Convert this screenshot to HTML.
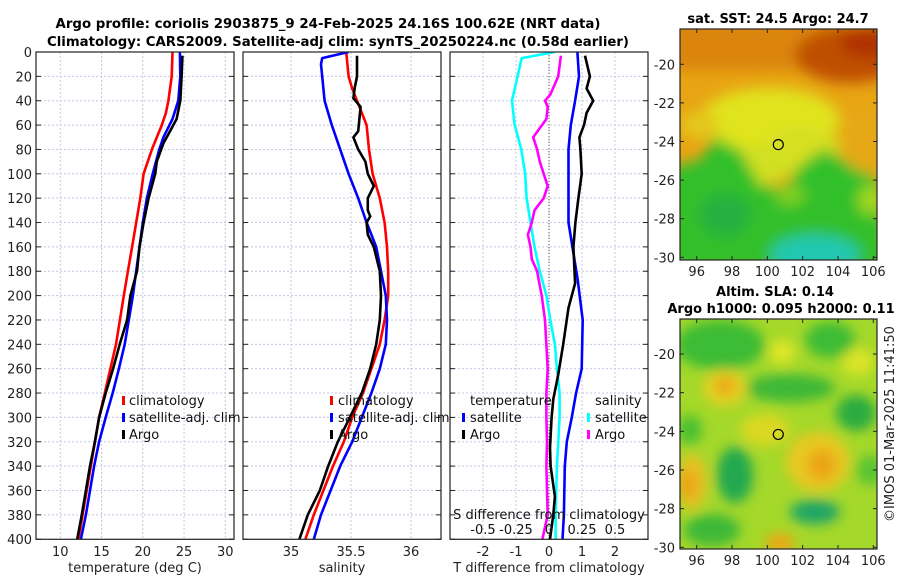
<!DOCTYPE html>
<html><head><meta charset="utf-8"><style>
html,body{margin:0;padding:0;background:#fff;}
svg{display:block;font-family:"DejaVu Sans","Liberation Sans",sans-serif;}
</style></head><body>
<svg id="fig" width="900" height="580" viewBox="0 0 900 580" xmlns="http://www.w3.org/2000/svg">
<defs>
<filter id="blr" x="-50%" y="-50%" width="200%" height="200%"><feGaussianBlur stdDeviation="7"/></filter>
<filter id="blr2" x="-50%" y="-50%" width="200%" height="200%"><feGaussianBlur stdDeviation="6"/></filter>
<clipPath id="c1"><rect x="680" y="29" width="197" height="231"/></clipPath>
<clipPath id="c2"><rect x="680" y="319" width="197" height="230"/></clipPath>
<clipPath id="cp1"><rect x="36" y="52" width="198" height="488"/></clipPath>
<clipPath id="cp2"><rect x="243" y="52" width="198" height="488"/></clipPath>
<clipPath id="cp3"><rect x="450" y="52" width="198" height="488"/></clipPath>
</defs>
<g font-weight="bold" font-size="13" text-anchor="middle">
<text x="328" y="28" textLength="545" lengthAdjust="spacingAndGlyphs">Argo profile: coriolis 2903875_9 24-Feb-2025 24.16S 100.62E (NRT data)</text>
<text x="338" y="46" textLength="582" lengthAdjust="spacingAndGlyphs">Climatology: CARS2009. Satellite-adj clim: synTS_20250224.nc (0.58d earlier)</text>
</g>
<g id="grid"></g>
<g id="marks"></g>
<g id="axes"></g>

<!-- map 1 -->
<g clip-path="url(#c1)">
<rect x="680" y="29" width="197" height="231" fill="#e8a414"/>
<g filter="url(#blr)">
<rect x="670" y="20" width="220" height="50" fill="#da840c"/>
<ellipse cx="850" cy="55" rx="55" ry="28" fill="#bf5006"/>
<ellipse cx="868" cy="42" rx="28" ry="16" fill="#b03000"/>
<ellipse cx="770" cy="120" rx="70" ry="32" fill="#e0e41e"/>
<ellipse cx="800" cy="150" rx="40" ry="25" fill="#d8e020"/>
<ellipse cx="760" cy="165" rx="30" ry="20" fill="#d0e020"/>
<ellipse cx="700" cy="125" rx="20" ry="14" fill="#e4c81a"/>
<ellipse cx="865" cy="140" rx="22" ry="35" fill="#e6a812"/>
<path d="M670 168 L700 160 L715 137 L740 150 L760 185 L785 190 L800 165 L825 148 L850 165 L880 180 L890 270 L670 270 Z" fill="#30c02c"/>
<ellipse cx="790" cy="195" rx="15" ry="10" fill="#80d020"/>
<ellipse cx="815" cy="255" rx="45" ry="20" fill="#20c8b0"/>
<ellipse cx="725" cy="215" rx="25" ry="22" fill="#28b040"/>
<ellipse cx="870" cy="200" rx="12" ry="15" fill="#a0d820"/>
</g>
</g>
<!-- map 2 -->
<g clip-path="url(#c2)">
<rect x="680" y="319" width="197" height="230" fill="#a4d82a"/>
<g filter="url(#blr2)">
<ellipse cx="720" cy="345" rx="45" ry="25" fill="#3cbc34"/>
<ellipse cx="790" cy="388" rx="45" ry="14" fill="#3cb838"/>
<ellipse cx="830" cy="340" rx="25" ry="18" fill="#3cbc34"/>
<ellipse cx="856" cy="413" rx="20" ry="18" fill="#2aac40"/>
<ellipse cx="735" cy="475" rx="18" ry="28" fill="#22a850"/>
<ellipse cx="690" cy="430" rx="12" ry="15" fill="#48c030"/>
<ellipse cx="712" cy="530" rx="28" ry="16" fill="#3cb838"/>
<ellipse cx="815" cy="512" rx="25" ry="12" fill="#1ea468"/>
<ellipse cx="870" cy="470" rx="14" ry="15" fill="#58c430"/>
<ellipse cx="725" cy="388" rx="22" ry="18" fill="#e6d020"/>
<ellipse cx="725" cy="386" rx="10" ry="8" fill="#eca018"/>
<ellipse cx="782" cy="352" rx="13" ry="12" fill="#e0e828"/>
<ellipse cx="858" cy="362" rx="16" ry="14" fill="#dce428"/>
<ellipse cx="765" cy="430" rx="25" ry="16" fill="#dcd824"/>
<ellipse cx="818" cy="462" rx="32" ry="30" fill="#e8c820"/>
<ellipse cx="822" cy="465" rx="14" ry="16" fill="#eba418"/>
<ellipse cx="692" cy="482" rx="15" ry="28" fill="#e8c020"/>
<ellipse cx="688" cy="485" rx="8" ry="14" fill="#eca018"/>
<ellipse cx="780" cy="543" rx="15" ry="10" fill="#eaa818"/>
</g>
</g>
<text x="778" y="23" font-size="13" font-weight="bold" text-anchor="middle">sat. SST: 24.5 Argo: 24.7</text>
<text x="775" y="296" font-size="13" font-weight="bold" text-anchor="middle">Altim. SLA: 0.14</text>
<text x="781" y="313" font-size="13" font-weight="bold" text-anchor="middle">Argo h1000: 0.095 h2000: 0.11</text>
<text transform="translate(894,424) rotate(-90)" font-size="13" text-anchor="middle" fill="#222">©IMOS 01-Mar-2025 11:41:50</text>
<g id="maxes"></g>

<g font-size="13" fill="#111">
<rect x="122" y="396" width="3" height="9" fill="#f00"/><text x="129" y="405">climatology</text>
<rect x="122" y="413" width="3" height="9" fill="#00f"/><text x="129" y="422">satellite-adj. clim</text>
<rect x="122" y="430" width="3" height="9" fill="#000"/><text x="129" y="439">Argo</text>
</g>
<g font-size="13" fill="#111">
<rect x="330" y="396" width="3" height="9" fill="#f00"/><text x="338" y="405">climatology</text>
<rect x="330" y="413" width="3" height="9" fill="#00f"/><text x="338" y="422">satellite-adj. clim</text>
<rect x="330" y="430" width="3" height="9" fill="#000"/><text x="338" y="439">Argo</text>
</g>
<g font-size="13" fill="#111">
<text x="470" y="405">temperature</text>
<rect x="462" y="413" width="3" height="9" fill="#00f"/><text x="470" y="422">satellite</text>
<rect x="462" y="430" width="3" height="9" fill="#000"/><text x="470" y="439">Argo</text>
<text x="595" y="405">salinity</text>
<rect x="587" y="413" width="3" height="9" fill="#0ff"/><text x="595" y="422">satellite</text>
<rect x="587" y="430" width="3" height="9" fill="#f0f"/><text x="595" y="439">Argo</text>
<text x="549" y="519" text-anchor="middle">S difference from climatology</text>
</g>
<g font-size="13" fill="#222" text-anchor="middle">
<text x="135" y="572">temperature (deg C)</text>
<text x="342" y="572">salinity</text>
<text x="549" y="572">T difference from climatology</text>
</g>
</svg>
<script>
// ---- data ----
const tClimDepth=[0,20,40,50,60,80,100,120,140,160,180,200,240,280,300,340,380,400];
const tClim=[23.6,23.5,23.1,22.8,22.3,21.1,20.1,19.7,19.2,18.7,18.2,17.7,16.75,15.4,14.7,13.7,12.7,12.2];
const tSatDepth=[0,20,40,55,70,80,100,120,140,160,180,200,220,240,260,280,300,320,340,360,380,400];
const tSat=[24.5,24.55,24.3,23.6,22.5,22.0,21.2,20.5,20.0,19.6,19.2,18.8,18.3,17.8,17.1,16.35,15.5,14.7,14.1,13.6,13.1,12.5];
const tArgoDepth=[3,20,40,55,65,75,90,100,120,140,160,180,200,220,240,260,280,300,320,340,360,380,400];
const tArgo=[24.8,24.7,24.55,24.1,23.3,22.5,21.7,21.5,20.7,20.1,19.6,19.3,18.5,18.1,17.2,16.4,15.5,14.7,14.2,13.6,13.1,12.6,12.05];

const sSatDepth=[0,5,10,40,60,80,100,120,140,160,180,200,220,240,260,280,300,320,340,360,380,400];
const sSat=[35.48,35.26,35.25,35.28,35.34,35.41,35.48,35.56,35.63,35.71,35.75,35.79,35.80,35.79,35.74,35.67,35.59,35.51,35.41,35.33,35.25,35.19];
const sClimDepth=[0,20,30,40,60,80,100,120,140,160,180,200,220,240,260,280,300,320,340,360,380,400];
const sClim=[35.46,35.48,35.51,35.55,35.63,35.65,35.68,35.74,35.78,35.80,35.81,35.81,35.78,35.74,35.67,35.60,35.51,35.44,35.35,35.27,35.19,35.12];
const sArgoDepth=[3,20,30,38,45,55,65,70,80,90,100,110,120,130,135,140,150,160,180,200,220,240,260,280,300,320,340,360,380,400];
const sArgo=[35.55,35.55,35.53,35.52,35.58,35.57,35.56,35.52,35.56,35.62,35.64,35.69,35.64,35.64,35.66,35.63,35.64,35.69,35.74,35.75,35.74,35.71,35.66,35.59,35.49,35.39,35.31,35.24,35.14,35.07];

const dTSatDepth=[0,20,40,60,80,100,140,187,220,260,280,300,320,340,380,400];
const dTSat=[0.86,0.91,0.79,0.66,0.59,0.59,0.59,0.87,1.02,0.99,0.82,0.69,0.54,0.48,0.45,0.41];
const dTArgoDepth=[3,20,30,40,50,60,70,80,100,120,140,160,190,210,240,265,285,300,325,340,365,380,400];
const dTArgo=[1.09,1.24,1.14,1.34,1.14,1.06,0.92,0.95,0.99,0.89,0.80,0.74,0.79,0.59,0.43,0.28,0.13,0.08,0.03,0.05,0.18,0.13,0.03];
const dSSatDepth=[0,5,40,60,80,100,120,140,160,180,200,220,240,260,280,300,340,380,400];
const dSSat=[0.045,-0.207,-0.28,-0.26,-0.21,-0.18,-0.17,-0.14,-0.11,-0.07,-0.02,0.01,0.045,0.06,0.08,0.08,0.06,0.05,0.05];
const dSArgoDepth=[3,20,35,40,45,55,70,80,90,100,110,120,130,140,150,160,170,180,200,220,260,280,300,320,340,360,380,400];
const dSArgo=[0.09,0.07,0.01,-0.03,-0.01,-0.02,-0.12,-0.09,-0.07,-0.04,-0.01,-0.04,-0.11,-0.13,-0.16,-0.14,-0.13,-0.09,-0.055,-0.03,-0.01,-0.02,-0.02,-0.015,-0.02,-0.015,-0.01,-0.05];

const depthTicks=[0,20,40,60,80,100,120,140,160,180,200,220,240,260,280,300,320,340,360,380,400];
const tTicks=[10,15,20,25,30];
const sTicks=[35,35.5,36];
const sTickLabels=["35","35.5","36"];
const dTTicks=[-2,-1,0,1,2];
const dSTicks=[-0.5,-0.25,0,0.25,0.5];
const dSTickLabels=["-0.5","-0.25","0","0.25","0.5"];
const lonTicks=[96,98,100,102,104,106];
const latTicks=[-20,-22,-24,-26,-28,-30];
const argoLon=100.62, argoLat=-24.16;

// ---- scales ----
const yD=d=>52+d*1.218;
const xT=t=>60.3+(t-10)*8.25;
const xS=s=>291+(s-35)*120;
const xDT=v=>549+v*33;
const xDS=v=>549+v*132;
const xLon=l=>696.7+(l-96)*17.66;
const yLat1=l=>64.3+(-20-l)*19.3;
const yLat2=l=>354+(-20-l)*19.33;

const NS="http://www.w3.org/2000/svg";
function mk(tag,attrs,parent){const e=document.createElementNS(NS,tag);for(const k in attrs)e.setAttribute(k,attrs[k]);parent.appendChild(e);return e;}
const grid=document.getElementById('grid'),marks=document.getElementById('marks'),axes=document.getElementById('axes'),maxes=document.getElementById('maxes');
const panels=[{x0:36,xs:tTicks.map(xT),clip:'cp1',n:'temperature'},{x0:243,xs:sTicks.map(xS),clip:'cp2',n:'salinity'},{x0:450,xs:dTTicks.map(xDT),clip:'cp3',n:'difference'}];
panels.forEach(p=>{
  const x1=p.x0+198;
  depthTicks.forEach(d=>{const l=mk('line',{x1:p.x0,x2:x1,y1:yD(d),y2:yD(d),stroke:'#c4c8e4','stroke-width':1,'stroke-dasharray':'2,2'},grid);
    
    
    mk('line',{x1:p.x0,x2:p.x0+5,y1:yD(d),y2:yD(d),stroke:'#222'},axes);
    mk('line',{x1:x1-5,x2:x1,y1:yD(d),y2:yD(d),stroke:'#222'},axes);});
  p.xs.forEach(x=>{const l=mk('line',{x1:x,x2:x,y1:52,y2:539.3,stroke:'#c4c8e4','stroke-width':1,'stroke-dasharray':'2,2'},grid);
    
    });
  const r=mk('rect',{x:p.x0,y:52,width:198,height:487.3,fill:'none',stroke:'#222','stroke-width':1.2},axes);
  
  
});
depthTicks.forEach(d=>{const t=mk('text',{x:32,y:yD(d)+5,'font-size':13,'text-anchor':'end',fill:'#222'},axes);t.textContent=d;
  
  });
tTicks.forEach(v=>{const t=mk('text',{x:xT(v),y:556,'font-size':13,'text-anchor':'middle',fill:'#222'},axes);t.textContent=v;
  
  });
sTicks.forEach((v,i)=>{const t=mk('text',{x:xS(v),y:556,'font-size':13,'text-anchor':'middle',fill:'#222'},axes);t.textContent=sTickLabels[i];
  
  });
dTTicks.forEach(v=>{const t=mk('text',{x:xDT(v),y:556,'font-size':13,'text-anchor':'middle',fill:'#222'},axes);t.textContent=v;
  
  });
dSTicks.forEach((v,i)=>{const t=mk('text',{x:xDS(v),y:534,'font-size':13,'text-anchor':'middle',fill:'#111'},axes);t.textContent=dSTickLabels[i];
  
  });
const z=mk('line',{x1:xDT(0),x2:xDT(0),y1:52,y2:539,stroke:'#555','stroke-dasharray':'1,2'},grid);



function series(depths,vals,xf,color,clip,name,w){
  const pts=depths.map((d,i)=>xf(vals[i]).toFixed(1)+','+yD(d).toFixed(1)).join(' ');
  const pl=mk('polyline',{points:pts,fill:'none',stroke:color,'stroke-width':w||2.6,'stroke-linejoin':'round','clip-path':'url(#'+clip+')'},marks);
  
  
}
series(tClimDepth,tClim,xT,'#f00','cp1','temperature-climatology-line');
series(tSatDepth,tSat,xT,'#00f','cp1','temperature-satellite-line');
series(tArgoDepth,tArgo,xT,'#000','cp1','temperature-argo-line');
series(sClimDepth,sClim,xS,'#f00','cp2','salinity-climatology-line');
series(sSatDepth,sSat,xS,'#00f','cp2','salinity-satellite-line');
series(sArgoDepth,sArgo,xS,'#000','cp2','salinity-argo-line');
series(dSSatDepth,dSSat,xDS,'#0ff','cp3','s-diff-satellite-line');
series(dSArgoDepth,dSArgo,xDS,'#f0f','cp3','s-diff-argo-line');
series(dTSatDepth,dTSat,xDT,'#00f','cp3','t-diff-satellite-line');
series(dTArgoDepth,dTArgo,xDT,'#000','cp3','t-diff-argo-line');

[[29,260,yLat1,'sst'],[319,549,yLat2,'sla']].forEach(([y0,y1,yl,n])=>{
  const r=mk('rect',{x:680,y:y0,width:197,height:y1-y0,fill:'none',stroke:'#222','stroke-width':1.2},maxes);
  
  
  lonTicks.forEach(l=>{const x=xLon(l);
    mk('line',{x1:x,x2:x,y1:y0,y2:y0+4,stroke:'#222'},maxes);
    mk('line',{x1:x,x2:x,y1:y1-4,y2:y1,stroke:'#222'},maxes);
    const t=mk('text',{x:x,y:y1+16,'font-size':13,'text-anchor':'middle',fill:'#222'},maxes);t.textContent=l;
    
    });
  latTicks.forEach(l=>{const y=yl(l);
    mk('line',{x1:680,x2:684,y1:y,y2:y,stroke:'#222'},maxes);
    mk('line',{x1:873,x2:877,y1:y,y2:y,stroke:'#222'},maxes);
    const t=mk('text',{x:675,y:y+5,'font-size':13,'text-anchor':'end',fill:'#222'},maxes);t.textContent=l;
    
    });
  const c=mk('circle',{cx:xLon(argoLon),cy:yl(argoLat),r:5,fill:'none',stroke:'#000','stroke-width':1.2},maxes);
  
  
});
</script>
</body></html>
